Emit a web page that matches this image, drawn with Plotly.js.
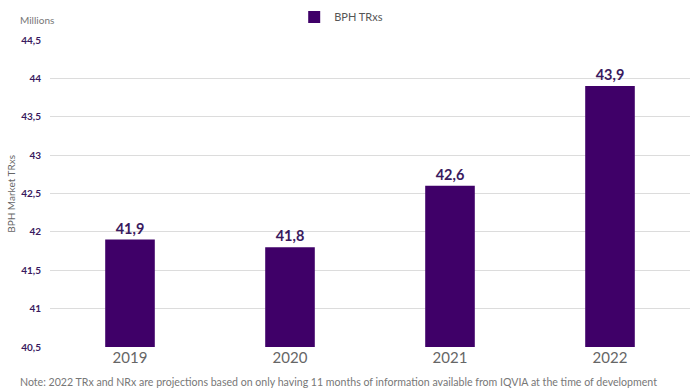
<!DOCTYPE html>
<html><head><meta charset="utf-8">
<script src="https://cdn.plot.ly/plotly-3.0.1.min.js"></script>
<style>html,body{margin:0;padding:0;background:#fff}#chart{width:690px;height:392px}</style>
</head><body><div id="chart"></div>
<script>
const years = ["2019", "2020", "2021", "2022"];
const trxs = [41.9, 41.8, 42.6, 43.9];
const labels = ["41,9", "41,8", "42,6", "43,9"];
const yTicks = [40.5, 41, 41.5, 42, 42.5, 43, 43.5, 44, 44.5];

const trace = {
  type: "bar", x: years, y: trxs, name: "BPH TRxs",
  marker: {color: "#3f0068"},
  text: labels, textposition: "outside", cliponaxis: false,
  textfont: {family: "Lato, sans-serif", size: 14.5, color: "#3a1a5e", weight: 700},
  hoverinfo: "none"
};
const layout = {
  width: 690, height: 392,
  margin: {l: 50, r: 0, t: 40, b: 45},
  separators: ",.",
  paper_bgcolor: "#fff", plot_bgcolor: "#fff",
  bargap: 0.69,
  showlegend: true,
  legend: {orientation: "h", x: 0.455, xanchor: "center", y: 1.075, yanchor: "middle",
    font: {family: "Lato, sans-serif", size: 11, color: "#555"}},
  xaxis: {type: "category", showgrid: false, showline: false, zeroline: false, ticks: "",
    tickfont: {family: "Lato, sans-serif", size: 15, color: "#666"}},
  yaxis: {range: [40.5, 44.5], tickvals: yTicks, showgrid: true, gridcolor: "#dcdcdc", gridwidth: 1,
    zeroline: false, showline: false, ticks: "", ticklabelstandoff: 8,
    tickfont: {family: "Lato, sans-serif", size: 10, color: "#3a1a5e", weight: 700}},
  annotations: [
    {text: "BPH Market TRxs", xref: "paper", yref: "paper", x: -0.062, y: 0.5, xanchor: "center", yanchor: "middle",
     textangle: -90, showarrow: false, font: {family: "Lato, sans-serif", size: 10, color: "#666"}},
    {text: "Millions", xref: "paper", yref: "paper", x: -0.05, y: 1.065, xanchor: "left", yanchor: "middle",
     showarrow: false, font: {family: "Lato, sans-serif", size: 10, color: "#777"}},
    {text: "Note: 2022 TRx and NRx are projections based on only having 11 months of information available from IQVIA at the time of development",
     xref: "paper", yref: "paper", x: -0.05, y: -0.115, xanchor: "left", yanchor: "middle", showarrow: false,
     font: {family: "Lato, sans-serif", size: 10.6, color: "#777"}}
  ]
};
Plotly.newPlot("chart", [trace], layout, {displayModeBar: false, staticPlot: true});
</script></body></html>
